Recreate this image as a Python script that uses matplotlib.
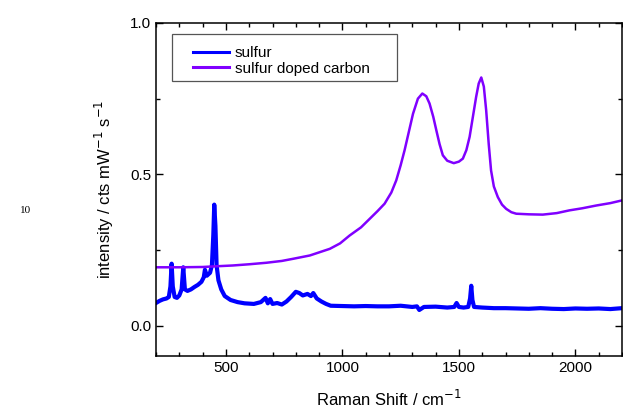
import matplotlib
matplotlib.use('Agg')
import matplotlib.pyplot as plt
from matplotlib.ticker import MultipleLocator
from matplotlib.patches import Rectangle

# sulfur spectrum
s_x = [200, 215, 230, 245, 255, 262, 267, 272, 280, 290, 300, 310, 317, 324, 335, 350,
       365, 380, 395, 405, 410, 418, 425, 432, 440, 446, 450, 455, 460, 468, 480, 495,
       520, 550, 580, 620, 650, 670, 680, 690, 700, 720, 740, 760, 780, 800, 815, 830,
       850, 865, 875, 890, 910, 930, 950, 1000, 1050, 1100, 1150, 1200, 1250, 1300,
       1320, 1330, 1350, 1400, 1450, 1480, 1490, 1500, 1520, 1540, 1548, 1553, 1558,
       1565, 1600, 1650, 1700, 1750, 1800, 1850, 1900, 1950, 2000, 2050, 2100, 2150, 2200]
s_y = [0.075, 0.082, 0.087, 0.090, 0.095, 0.13, 0.205, 0.13, 0.095, 0.092, 0.10, 0.12, 0.193,
       0.12, 0.115, 0.12, 0.128, 0.135, 0.145, 0.16, 0.185, 0.165, 0.17, 0.175, 0.20,
       0.30, 0.40, 0.33, 0.20, 0.15, 0.12, 0.098, 0.085, 0.078, 0.074, 0.072, 0.078,
       0.092, 0.074, 0.088, 0.072, 0.075, 0.07, 0.08, 0.095, 0.112, 0.108, 0.10,
       0.105, 0.098, 0.108, 0.09, 0.08, 0.072, 0.066, 0.065, 0.064, 0.065, 0.064,
       0.064, 0.066, 0.062, 0.064, 0.052, 0.062, 0.063, 0.06, 0.062, 0.075, 0.062,
       0.06, 0.062, 0.09, 0.132, 0.085, 0.062, 0.06, 0.058, 0.058, 0.057, 0.056,
       0.058, 0.056, 0.055, 0.057, 0.056, 0.057, 0.055, 0.058]

# sulfur doped carbon spectrum
c_x = [200, 300, 400, 450, 530, 600, 674, 740, 788, 860, 946, 990, 1031, 1080, 1117,
       1150, 1181, 1210, 1231, 1250, 1267, 1285, 1303, 1324, 1343, 1360, 1374, 1390,
       1403, 1417, 1431, 1450, 1478, 1500, 1517, 1532, 1546, 1560, 1574, 1585, 1596,
       1607, 1617, 1628, 1638, 1650, 1667, 1685, 1703, 1725, 1746, 1800, 1860, 1920,
       1974, 2030, 2089, 2150, 2200]
c_y = [0.193, 0.193, 0.194, 0.196, 0.199, 0.203, 0.208, 0.214, 0.221, 0.232, 0.254,
       0.272, 0.298, 0.325, 0.353, 0.378, 0.403, 0.44, 0.48, 0.53, 0.58, 0.64, 0.70,
       0.75, 0.767, 0.758, 0.734, 0.69, 0.646, 0.60, 0.563, 0.545, 0.537, 0.542, 0.552,
       0.58, 0.624, 0.69, 0.756, 0.80, 0.82, 0.79, 0.712, 0.60, 0.513, 0.46, 0.425,
       0.40, 0.386, 0.375, 0.37, 0.368, 0.367, 0.372, 0.381, 0.388, 0.397, 0.405, 0.414]

plt.rcParams['font.family'] = ['Liberation Sans', 'DejaVu Sans']

fig = plt.figure(figsize=(6.23, 4.09), dpi=100)
ax = fig.add_axes([0.2504, 0.1296, 0.748, 0.8142])

ax.plot(s_x, s_y, color='#0000ff', lw=3.0, label='sulfur')
ax.plot(c_x, c_y, color='#8000ff', lw=1.8, label='sulfur doped carbon')

ax.set_xlim(200, 2200)
ax.set_ylim(-0.1, 1.0)
ax.xaxis.set_major_locator(MultipleLocator(500))
ax.xaxis.set_minor_locator(MultipleLocator(100))
ax.yaxis.set_major_locator(MultipleLocator(0.5))
ax.yaxis.set_minor_locator(MultipleLocator(0.25))
ax.tick_params(which='both', direction='in', top=True, right=True, labelsize=11)
ax.tick_params(which='major', length=5, width=1)
ax.tick_params(which='minor', length=3, width=1)
for sp in ax.spines.values():
    sp.set_linewidth(1.1)

ax.set_xlabel('Raman Shift / cm$^{-1}$', fontsize=12, labelpad=10)
ax.set_ylabel('intensity / cts mW$^{-1}$ s$^{-1}$', fontsize=12, labelpad=10)

# legend frame drawn separately so the padding matches
ax.add_patch(Rectangle((0.034, 0.826), 0.483, 0.141, transform=ax.transAxes,
                       fill=False, edgecolor='#555555', lw=0.9, zorder=5))
leg = ax.legend(loc='upper left', bbox_to_anchor=(0.079, 0.93), fontsize=11,
                frameon=False, handlelength=2.4, handletextpad=0.35,
                borderpad=0, borderaxespad=0, labelspacing=0.1)
for h in leg.get_lines():
    h.set_linewidth(2.2)

fig.text(0.032, 0.48, '10', fontsize=8, family='Liberation Serif')

fig.savefig('out.png', dpi=100)
